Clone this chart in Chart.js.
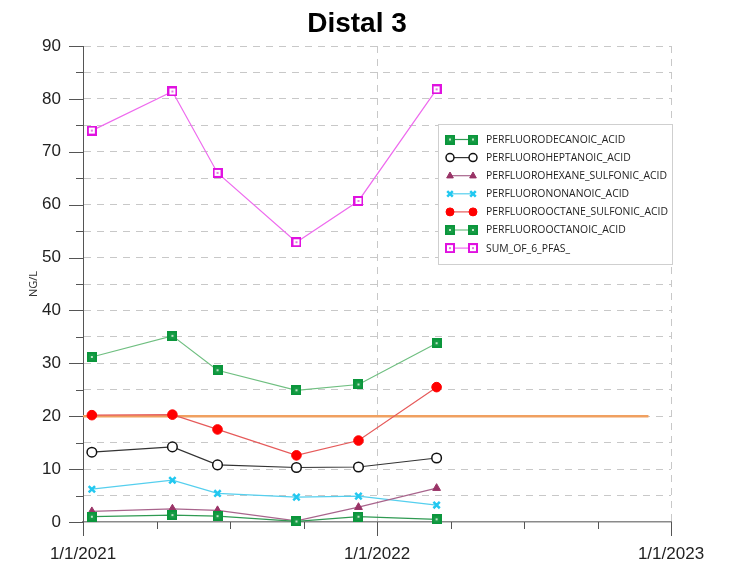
<!DOCTYPE html>
<html>
<head>
<meta charset="utf-8">
<script src="https://cdn.jsdelivr.net/npm/chart.js@4.4.1/dist/chart.umd.min.js"></script>
<style>
  html, body { margin: 0; padding: 0; background: #fff; }
</style>
</head>
<body>
<canvas id="chart" width="732" height="568"></canvas>
<script>
const chartTitle = "Distal 3";
const yAxisLabel = "NG/L";
const sampleDates = ["2021-01-12", "2021-04-22", "2021-06-17", "2021-09-23", "2021-12-09", "2022-03-16"];
const xTickLabels = ["1/1/2021", "1/1/2022", "1/1/2023"];

const pfda  = [1.0, 1.3, 1.1, 0.1, 1.0, 0.5];
const pfhpa = [13.2, 14.2, 10.8, 10.3, 10.4, 12.1];
const pfhxs = [2.0, 2.5, 2.2, 0.2, 2.8, 6.4];
const pfna  = [6.2, 7.9, 5.4, 4.7, 4.9, 3.2];
const pfos  = [20.2, 20.3, 17.5, 12.6, 15.4, 25.5];
const pfoa  = [31.2, 35.2, 28.7, 24.9, 26.0, 33.8];
const sum6  = [74.0, 81.4, 66.0, 52.9, 60.7, 81.8];

const limitValue = 20;
const limitDates = ["2021-01-01", "2022-12-04"];

// days since 1/1/2021 (x scale is linear in days)
const DAY = 86400000;
const origin = Date.UTC(2021, 0, 1);
function isoDay(s) {
  const [y, m, d] = s.split("-").map(Number);
  return (Date.UTC(y, m - 1, d) - origin) / DAY;
}
function usDay(s) {
  const [m, d, y] = s.split("/").map(Number);
  return (Date.UTC(y, m - 1, d) - origin) / DAY;
}
const sampleDays = sampleDates.map(isoDay);
const majorDays = xTickLabels.map(usDay);
const xMax = majorDays[majorDays.length - 1];

// square markers as small canvases
function squareMarker(edge, fill, dot) {
  const c = document.createElement("canvas");
  c.width = 10; c.height = 10;
  const g = c.getContext("2d");
  g.fillStyle = edge; g.fillRect(0, 0, 10, 10);
  g.fillStyle = fill; g.fillRect(2, 2, 6, 6);
  g.fillStyle = dot; g.fillRect(4, 4, 2, 2);
  return c;
}
const greenSq = squareMarker("#0b963c", "#179c45", "#bfe3c8");
const magentaSq = squareMarker("#e012e0", "#ffffff", "#e27ae2");

const series = [
  { label: "PERFLUORODECANOIC_ACID", data: pfda, line: "#2f9a52", style: greenSq, radius: 5 },
  { label: "PERFLUOROHEPTANOIC_ACID", data: pfhpa, line: "#333333", style: "circle", radius: 4.8, fill: "#ffffff", edge: "#111111", bw: 1.5 },
  { label: "PERFLUOROHEXANE_SULFONIC_ACID", data: pfhxs, line: "#a8648c", style: "triangle", radius: 4.5, fill: "#993366", edge: "#993366", bw: 1 },
  { label: "PERFLUORONONANOIC_ACID", data: pfna, line: "#55cfee", style: "crossRot", radius: 4.5, fill: "#22c8f0", edge: "#22c8f0", bw: 2.5 },
  { label: "PERFLUOROOCTANE_SULFONIC_ACID", data: pfos, line: "#e65a5a", style: "circle", radius: 4.8, fill: "#ff0000", edge: "#ff0000", bw: 1 },
  { label: "PERFLUOROOCTANOIC_ACID", data: pfoa, line: "#6fbf80", style: greenSq, radius: 5 },
  { label: "SUM_OF_6_PFAS_", data: sum6, line: "#ee6aee", style: magentaSq, radius: 5 }
];

const datasets = series.map(s => ({
  label: s.label,
  data: sampleDays.map((d, i) => ({ x: d, y: s.data[i] })),
  borderColor: s.line,
  borderWidth: 1.2,
  pointStyle: s.style,
  pointRadius: s.radius,
  pointBackgroundColor: s.fill || s.line,
  pointBorderColor: s.edge || s.line,
  pointBorderWidth: s.bw || 1,
  tension: 0,
  clip: false
}));

datasets.push({
  label: "limit",
  data: limitDates.map(d => ({ x: isoDay(d), y: limitValue })),
  borderColor: "#f0a060",
  borderWidth: 2.5,
  pointRadius: 0,
  clip: false,
  order: 10
});

// legend marker, a bit smaller than the plot markers
function drawMarker(ctx, s, x, y) {
  if (s.style instanceof HTMLCanvasElement) {
    ctx.drawImage(s.style, x - 5, y - 5);
    return;
  }
  ctx.save();
  ctx.fillStyle = s.fill;
  ctx.strokeStyle = s.edge;
  ctx.lineWidth = s.bw;
  const r = s.radius - 0.8;
  ctx.beginPath();
  if (s.style === "circle") {
    ctx.arc(x, y, r, 0, Math.PI * 2);
    ctx.fill(); ctx.stroke();
  } else if (s.style === "triangle") {
    ctx.moveTo(x, y - r);
    ctx.lineTo(x + r * 0.9, y + r * 0.6);
    ctx.lineTo(x - r * 0.9, y + r * 0.6);
    ctx.closePath();
    ctx.fill(); ctx.stroke();
  } else {
    const k = r * 0.75;
    ctx.moveTo(x - k, y - k); ctx.lineTo(x + k, y + k);
    ctx.moveTo(x + k, y - k); ctx.lineTo(x - k, y + k);
    ctx.stroke();
  }
  ctx.restore();
}

const extras = {
  id: "extras",
  afterDraw(chart) {
    const { ctx, scales: { x, y }, chartArea: a } = chart;
    ctx.save();

    // title
    ctx.fillStyle = "#000";
    ctx.font = "bold 28px 'Liberation Sans', Arial, sans-serif";
    ctx.textAlign = "center";
    ctx.textBaseline = "alphabetic";
    ctx.fillText(chartTitle, 357, 32);

    // tick marks
    ctx.strokeStyle = "#555";
    ctx.lineWidth = 1;
    ctx.beginPath();
    y.ticks.forEach(t => {
      const py = Math.round(y.getPixelForValue(t.value)) + 0.5;
      const len = t.value % 10 === 0 ? 14 : 7;
      ctx.moveTo(a.left - len, py); ctx.lineTo(a.left, py);
    });
    x.ticks.forEach(t => {
      const px = Math.round(x.getPixelForValue(t.value)) + 0.5;
      const len = majorDays.includes(t.value) ? 14 : 7;
      ctx.moveTo(px, a.bottom); ctx.lineTo(px, a.bottom + len);
    });
    ctx.stroke();

    // legend
    const bx = 438.5, by = 124.5, bw = 234, bh = 140;
    ctx.fillStyle = "#fff";
    ctx.fillRect(bx, by, bw, bh);
    ctx.strokeStyle = "#cfcfcf";
    ctx.strokeRect(bx, by, bw, bh);
    ctx.font = "10.4px 'Open Sans', 'Noto Sans', sans-serif";
    ctx.textAlign = "left";
    ctx.textBaseline = "middle";
    series.forEach((s, i) => {
      const ly = 139.5 + i * 18.1;
      ctx.strokeStyle = s.line;
      ctx.lineWidth = 1.2;
      ctx.beginPath(); ctx.moveTo(449, ly); ctx.lineTo(473, ly); ctx.stroke();
      drawMarker(ctx, s, 450, ly);
      drawMarker(ctx, s, 473, ly);
      ctx.fillStyle = "#222";
      ctx.fillText(s.label, 486, ly + 0.5);
    });
    ctx.restore();
  }
};

new Chart(document.getElementById("chart"), {
  type: "line",
  data: { datasets: datasets },
  options: {
    responsive: false,
    animation: false,
    events: [],
    devicePixelRatio: 1,
    layout: { padding: { top: 46, right: 61, left: 0, bottom: 0 } },
    plugins: {
      legend: { display: false },
      title: { display: false },
      tooltip: { enabled: false }
    },
    scales: {
      x: {
        type: "linear",
        min: 0,
        max: xMax,
        afterBuildTicks: (s) => {
          const t = [];
          for (let i = 0; i <= 8; i++) t.push({ value: xMax * i / 8 });
          s.ticks = t;
        },
        afterFit: (s) => { s.height = 46; },
        ticks: {
          autoSkip: false,
          maxRotation: 0,
          padding: 22,
          color: "#222",
          font: { family: "'Liberation Sans', Arial, sans-serif", size: 17 },
          callback: (v) => {
            const i = majorDays.indexOf(v);
            return i >= 0 ? xTickLabels[i] : "";
          }
        },
        grid: {
          drawTicks: false,
          color: (c) => (c.tick && c.tick.value > 0 && majorDays.includes(c.tick.value)) ? "#c8c8c8" : "rgba(0,0,0,0)",
          lineWidth: 1
        },
        border: { color: "#8a8a8a", width: 1.5, dash: [7, 6] }
      },
      y: {
        min: 0,
        max: 90,
        afterFit: (s) => { s.width = 83; },
        ticks: {
          stepSize: 5,
          padding: 22,
          color: "#222",
          font: { family: "'Liberation Sans', Arial, sans-serif", size: 17 },
          callback: (v) => (v % 10 === 0 ? v : "")
        },
        grid: {
          drawTicks: false,
          color: (c) => (c.tick && c.tick.value > 0) ? "#c8c8c8" : "rgba(0,0,0,0)",
          lineWidth: 1
        },
        border: { color: "#555", width: 1, dash: [7, 6] },
        title: {
          display: true,
          text: yAxisLabel,
          color: "#333",
          font: { family: "'Open Sans', 'Noto Sans', sans-serif", size: 11 },
          padding: { top: 27, bottom: 0 }
        }
      }
    }
  },
  plugins: [extras]
});
</script>
</body>
</html>
